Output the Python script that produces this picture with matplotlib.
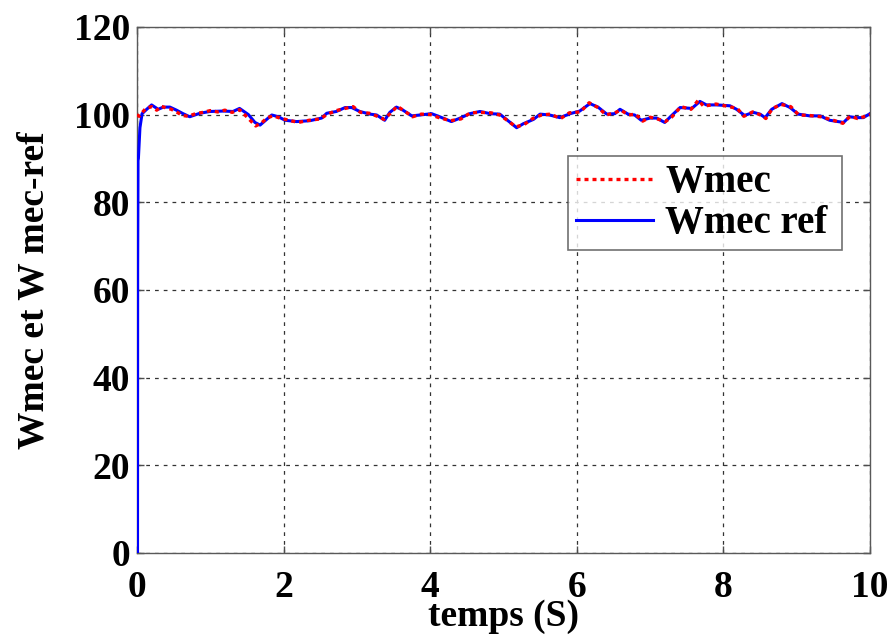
import matplotlib
matplotlib.use("Agg")
import matplotlib.pyplot as plt
import numpy as np

t_ref = [0.0, 0.008, 0.010, 0.015, 0.02, 0.041, 0.07, 0.12, 0.20, 0.29, 0.36, 0.45, 0.54, 0.63,
         0.72, 0.86, 0.995, 1.18, 1.31, 1.40, 1.52, 1.61, 1.68, 1.77, 1.84, 1.93, 2.02,
         2.18, 2.36, 2.52, 2.59, 2.72, 2.84, 2.93, 3.04, 3.18, 3.27, 3.38, 3.45, 3.54,
         3.63, 3.75, 3.86, 4.02, 4.13, 4.29, 4.41, 4.54, 4.68, 4.82, 4.95, 5.04, 5.18,
         5.27, 5.41, 5.50, 5.63, 5.77, 5.91, 6.04, 6.18, 6.29, 6.41, 6.52, 6.59, 6.70,
         6.79, 6.88, 7.00, 7.09, 7.20, 7.29, 7.41, 7.57, 7.68, 7.77, 7.91, 8.09, 8.18,
         8.29, 8.41, 8.50, 8.57, 8.66, 8.80, 8.91, 9.02, 9.18, 9.32, 9.45, 9.64, 9.72,
         9.82, 9.91, 10.0]
w_ref = [0.0, 0.0, 65.0, 89.5, 90.0, 97.0, 100.2, 101.0, 102.2, 101.2, 101.7, 101.7, 101.0, 100.2,
         99.5, 100.3, 100.7, 100.8, 100.7, 101.4, 100.0, 98.2, 97.6, 98.9, 99.9, 99.5, 98.7,
         98.4, 98.6, 99.2, 100.3, 100.7, 101.6, 101.6, 100.7, 100.1, 99.9, 98.7, 100.5, 101.7,
         101.0, 99.7, 99.9, 100.2, 99.5, 98.4, 99.2, 100.2, 100.7, 100.2, 100.1, 98.9, 97.0,
         97.9, 98.9, 100.1, 99.9, 99.3, 100.2, 100.8, 102.5, 101.7, 100.1, 100.2, 101.2, 100.1,
         99.9, 98.7, 99.2, 99.2, 98.2, 99.7, 101.6, 101.4, 103.0, 102.2, 102.2, 102.0, 101.2,
         99.8, 100.5, 100.1, 99.3, 101.2, 102.5, 101.6, 100.1, 99.7, 99.7, 98.7, 98.2, 99.5,
         99.3, 99.3, 100.2]

t_mes = [0.0, 0.03, 0.07, 0.12, 0.20, 0.27, 0.33, 0.40, 0.47, 0.55, 0.62, 0.70, 0.80, 0.90,
         1.00, 1.10, 1.20, 1.30, 1.40, 1.48, 1.55, 1.62, 1.70, 1.78, 1.86, 1.95, 2.05,
         2.20, 2.35, 2.50, 2.60, 2.72, 2.84, 2.95, 3.05, 3.17, 3.28, 3.37, 3.46, 3.55,
         3.65, 3.76, 3.88, 4.00, 4.12, 4.28, 4.42, 4.55, 4.68, 4.83, 4.95, 5.05, 5.17,
         5.28, 5.40, 5.52, 5.64, 5.78, 5.90, 6.05, 6.17, 6.30, 6.40, 6.52, 6.60, 6.71,
         6.80, 6.90, 7.00, 7.10, 7.21, 7.30, 7.42, 7.56, 7.66, 7.73, 7.90, 8.08, 8.19,
         8.28, 8.40, 8.51, 8.58, 8.67, 8.79, 8.92, 9.03, 9.17, 9.33, 9.46, 9.63, 9.73,
         9.83, 9.92, 10.0]
w_mes = [100.0, 99.6, 100.4, 101.4, 101.8, 101.0, 101.9, 101.5, 101.2, 100.5, 99.8, 99.6, 100.2, 100.5,
         100.9, 100.6, 101.0, 100.5, 101.1, 99.8, 98.6, 97.4, 98.1, 99.3, 99.7, 99.2, 98.8,
         98.2, 98.7, 99.0, 100.1, 100.9, 101.4, 101.8, 100.5, 100.3, 99.6, 98.9, 100.3, 101.9,
         100.8, 99.5, 100.1, 100.0, 99.3, 98.6, 99.0, 100.4, 100.5, 100.4, 99.9, 98.7, 97.2,
         97.7, 99.1, 99.9, 100.1, 99.1, 100.4, 100.6, 102.7, 101.5, 99.9, 100.4, 101.0, 99.9,
         100.1, 98.5, 99.4, 99.0, 98.4, 99.5, 101.8, 101.2, 103.3, 101.9, 102.4, 101.8, 101.4,
         99.6, 100.6, 99.9, 99.1, 101.4, 102.3, 101.8, 99.9, 99.8, 99.5, 98.9, 98.0, 99.6,
         99.1, 99.5, 100.0]

x_ticks = [0, 2, 4, 6, 8, 10]
y_ticks = [0, 20, 40, 60, 80, 100, 120]

plt.rcParams["font.family"] = ["Liberation Serif", "DejaVu Serif"]
plt.rcParams["font.weight"] = "bold"

fig = plt.figure(figsize=(8.95, 6.4), dpi=100)
ax = fig.add_axes([0.153, 0.136, 0.819, 0.822])

ax.plot(t_ref, w_ref, color="#0000ff", lw=2.2, label="Wmec ref", zorder=3)
ax.plot(t_mes, w_mes, color="#ff0000", lw=2.4, ls=(0, (1.2, 1.2)), label="Wmec", zorder=4)

ax.set_xlim(0, 10)
ax.set_ylim(0, 120)
ax.set_xticks(x_ticks)
ax.set_yticks(y_ticks)
ax.tick_params(direction="in", length=5, width=1, top=True, right=True,
               labelsize=27, color="0.3")
ax.tick_params(axis="x", pad=12)
ax.tick_params(axis="y", pad=5)
for lab in ax.get_xticklabels() + ax.get_yticklabels():
    lab.set_fontweight("bold")
for sp in ax.spines.values():
    sp.set_color("0.35")
    sp.set_linewidth(1.0)
ax.grid(True, color="0.2", ls=(0, (3, 4)), lw=0.9)

ax.set_xlabel("temps (S)", fontsize=27, fontweight="bold", labelpad=-4)
ax.set_ylabel("Wmec et W mec-ref", fontsize=27, fontweight="bold", labelpad=16)

handles, labels = ax.get_legend_handles_labels()
leg = ax.legend(handles[::-1], labels[::-1], loc="lower left",
                bbox_to_anchor=(0.588, 0.576, 0.374, 0.181), mode="expand",
                prop={"weight": "bold", "size": 28},
                frameon=True, fancybox=False, edgecolor="0.3",
                handlelength=2.0, handletextpad=0.3, borderpad=0.2,
                labelspacing=0.1, borderaxespad=0)
leg.get_frame().set_linewidth(1.2)

fig.savefig("out.png", dpi=100)
